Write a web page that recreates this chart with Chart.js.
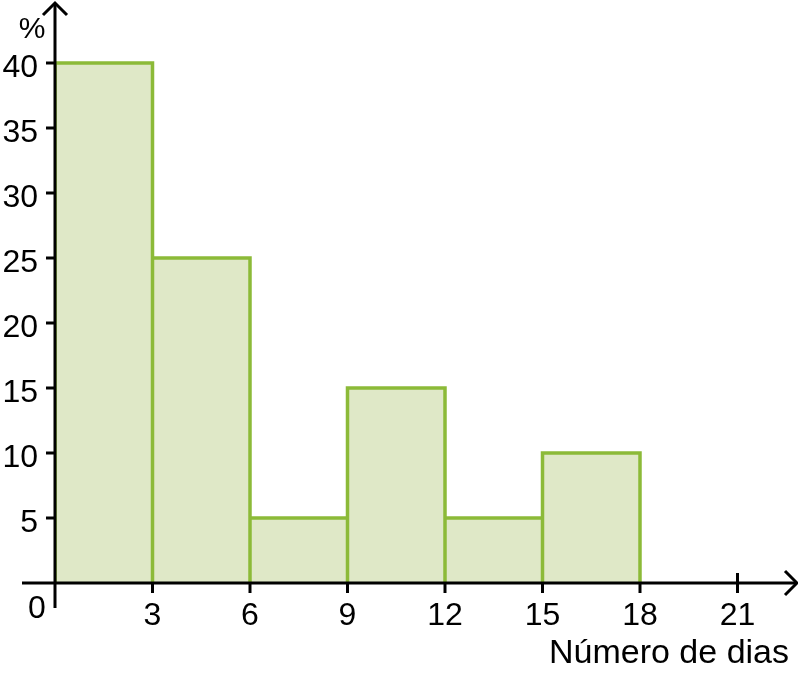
<!DOCTYPE html>
<html>
<head>
<meta charset="utf-8">
<script src="https://cdn.jsdelivr.net/npm/chart.js@4"></script>
<style>
  html, body { margin: 0; padding: 0; background: #ffffff; }
  #wrap { width: 798px; height: 682px; position: relative; }
</style>
</head>
<body>
<div id="wrap"><canvas id="c"></canvas></div>
<script>
// Data
const binEdges = [0, 3, 6, 9, 12, 15, 18];
const percentages = [40, 25, 5, 15, 5, 10];
const xTickValues = [3, 6, 9, 12, 15, 18, 21];
const yTickValues = [5, 10, 15, 20, 25, 30, 35, 40];
const xAxisTitle = 'Número de dias';
const yAxisTitle = '%';

// bar fills (centered on each bin)
const barData = percentages.map((v, i) => ({ x: (binEdges[i] + binEdges[i + 1]) / 2, y: v }));
// outline of each bin rectangle, traced through the scales
const outlineData = [];
percentages.forEach((v, i) => {
  const lo = binEdges[i], hi = binEdges[i + 1];
  outlineData.push({ x: lo, y: 0 }, { x: lo, y: v }, { x: hi, y: v }, { x: hi, y: 0 });
});

const FONT = '"Liberation Sans", Arial, sans-serif';
const green = '#8cba38';
const fill = '#dfe8c7';

const axesPlugin = {
  id: 'axesPlugin',
  afterDatasetsDraw(chart) {
    const ctx = chart.ctx;
    const xs = chart.scales.x, ys = chart.scales.y;
    const x0 = xs.getPixelForValue(0);
    const y0 = ys.getPixelForValue(0);
    const top = chart.chartArea.top;
    const right = chart.chartArea.right;
    ctx.save();
    ctx.strokeStyle = '#000';
    ctx.fillStyle = '#000';
    ctx.lineCap = 'butt';
    ctx.lineWidth = 3;
    // y axis
    ctx.beginPath();
    ctx.moveTo(x0, 608);
    ctx.lineTo(x0, top - 8);
    ctx.stroke();
    // y arrow
    ctx.beginPath();
    ctx.moveTo(x0 - 12, top + 4);
    ctx.lineTo(x0, top - 8);
    ctx.lineTo(x0 + 12, top + 4);
    ctx.stroke();
    // x axis
    ctx.beginPath();
    ctx.moveTo(22, y0);
    ctx.lineTo(right + 27, y0);
    ctx.stroke();
    // x arrow
    ctx.beginPath();
    ctx.moveTo(right + 15, y0 - 12);
    ctx.lineTo(right + 27, y0);
    ctx.lineTo(right + 15, y0 + 12);
    ctx.stroke();
    // y ticks
    ctx.font = '32px ' + FONT;
    ctx.textAlign = 'right';
    ctx.textBaseline = 'alphabetic';
    yTickValues.forEach(v => {
      const p = ys.getPixelForValue(v);
      ctx.beginPath();
      ctx.moveTo(x0 - 9, p);
      ctx.lineTo(x0, p);
      ctx.stroke();
      ctx.fillText(String(v), 38, p + 14);
    });
    // x ticks
    ctx.textAlign = 'center';
    xTickValues.forEach(v => {
      const p = xs.getPixelForValue(v);
      ctx.beginPath();
      ctx.moveTo(p, v === 21 ? y0 - 10 : y0);
      ctx.lineTo(p, y0 + 10);
      ctx.stroke();
      ctx.fillText(String(v), p, y0 + 42);
    });
    // origin label
    ctx.fillText('0', 37, 618);
    // axis titles
    ctx.textAlign = 'right';
    ctx.font = '34px ' + FONT;
    ctx.fillText(xAxisTitle, 789, 663);
    ctx.textAlign = 'center';
    ctx.font = '30px ' + FONT;
    ctx.fillText(yAxisTitle, 32, 38);
    ctx.restore();
  }
};

new Chart(document.getElementById('c'), {
  type: 'bar',
  data: {
    datasets: [{
      type: 'bar',
      data: barData,
      backgroundColor: fill,
      borderWidth: 0,
      barPercentage: 1,
      categoryPercentage: 1,
      grouped: false,
      order: 1
    }, {
      type: 'line',
      data: outlineData,
      borderColor: green,
      borderWidth: 3.5,
      borderJoinStyle: 'miter',
      pointRadius: 0,
      fill: false,
      tension: 0,
      order: 0
    }]
  },
  options: {
    responsive: true,
    maintainAspectRatio: false,
    animation: false,
    layout: { padding: { left: 55, right: 28, top: 11, bottom: 99 } },
    plugins: { legend: { display: false }, tooltip: { enabled: false }, title: { display: false } },
    scales: {
      x: {
        type: 'linear', min: 0, max: 22, offset: false, display: false,
        afterBuildTicks: (scale) => { scale.ticks = [0].concat(xTickValues).map(v => ({ value: v })); }
      },
      y: { type: 'linear', min: 0, max: 44, display: false }
    }
  },
  plugins: [axesPlugin]
});
</script>
</body>
</html>
